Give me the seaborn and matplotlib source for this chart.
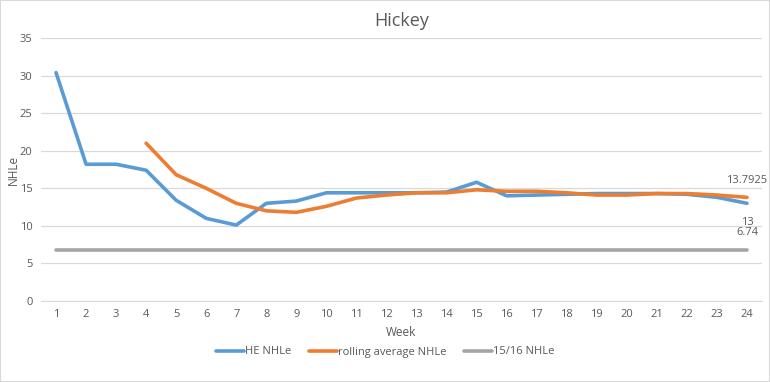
import matplotlib
matplotlib.use("Agg")
import matplotlib.pyplot as plt
import seaborn as sns
import pandas as pd
import numpy as np
from matplotlib.lines import Line2D

weeks = list(range(1, 25))
he_nhle = [30.4, 18.2, 18.2, 17.4, 13.4, 11.0, 10.1, 13.0, 13.3, 14.4, 14.4, 14.4,
           14.4, 14.5, 15.8, 14.0, 14.1, 14.2, 14.3, 14.3, 14.3, 14.2, 13.8, 13.0]
rolling_nhle = [np.nan, np.nan, np.nan, 21.0, 16.8, 15.0, 13.0, 12.0, 11.8, 12.6, 13.7, 14.1,
                14.4, 14.4, 14.8, 14.6, 14.6, 14.4, 14.1, 14.1, 14.3, 14.3, 14.1, 13.7925]
prev_nhle = [6.74] * 24
series_names = ["HE NHLe", "rolling average NHLe", "15/16 NHLe"]
colors = ["#5B9BD5", "#ED7D31", "#A5A5A5"]

df = pd.DataFrame({"Week": weeks * 3,
                   "NHLe": he_nhle + rolling_nhle + prev_nhle,
                   "series": [series_names[0]] * 24 + [series_names[1]] * 24 + [series_names[2]] * 24})

sns.set_style("white")
plt.rcParams['font.family'] = ['Open Sans', 'DejaVu Sans']
txt = "#595959"

fig = plt.figure(figsize=(7.7, 3.82), dpi=100)
ax = fig.add_axes([41/770, 1 - 301/382, (762 - 41)/770, (301 - 38)/382])
sns.lineplot(data=df, x="Week", y="NHLe", hue="series", palette=colors,
             linewidth=2.6, ax=ax, legend=False, sort=False)

ax.set_xlim(0.5, 24.5)
ax.set_ylim(0, 35)
ax.set_yticks(range(0, 36, 5))
ax.set_xticks(weeks)
ax.grid(axis="y", color="#D9D9D9", linewidth=0.9)
ax.set_axisbelow(True)
for s in ["top", "right", "left"]:
    ax.spines[s].set_visible(False)
ax.spines["bottom"].set_color("#D9D9D9")
ax.tick_params(axis="both", length=0, labelsize=8, colors=txt, pad=6)
ax.set_xlabel("Week", fontsize=8.5, color=txt, labelpad=4)
ax.set_ylabel("NHLe", fontsize=8.5, color=txt, labelpad=0)
ax.set_title("Hickey", fontsize=13, color=txt, pad=9)

ax.annotate("13.7925", (24, rolling_nhle[-1]), xytext=(0, 8), textcoords="offset points",
            ha="center", va="bottom", fontsize=8, color=txt)
ax.annotate("13", (24, he_nhle[-1]), xytext=(0, -10), textcoords="offset points",
            ha="center", va="top", fontsize=8, color=txt)
ax.annotate("6.74", (24, prev_nhle[-1]), xytext=(0, 9), textcoords="offset points",
            ha="center", va="bottom", fontsize=8, color=txt)

handles = [Line2D([0], [0], color=c, linewidth=2.6) for c in colors]
fig.legend(handles, series_names, loc="center", bbox_to_anchor=(0.5, 1 - 352/382),
           ncol=3, frameon=False, fontsize=8, labelcolor=txt, handlelength=2.5,
           columnspacing=1.6, handletextpad=0.1)

fig.patches.append(plt.Rectangle((0, 0), 1, 1, transform=fig.transFigure, fill=False,
                                 edgecolor="#D9D9D9", linewidth=1.5))
fig.savefig("out.png", dpi=100)
